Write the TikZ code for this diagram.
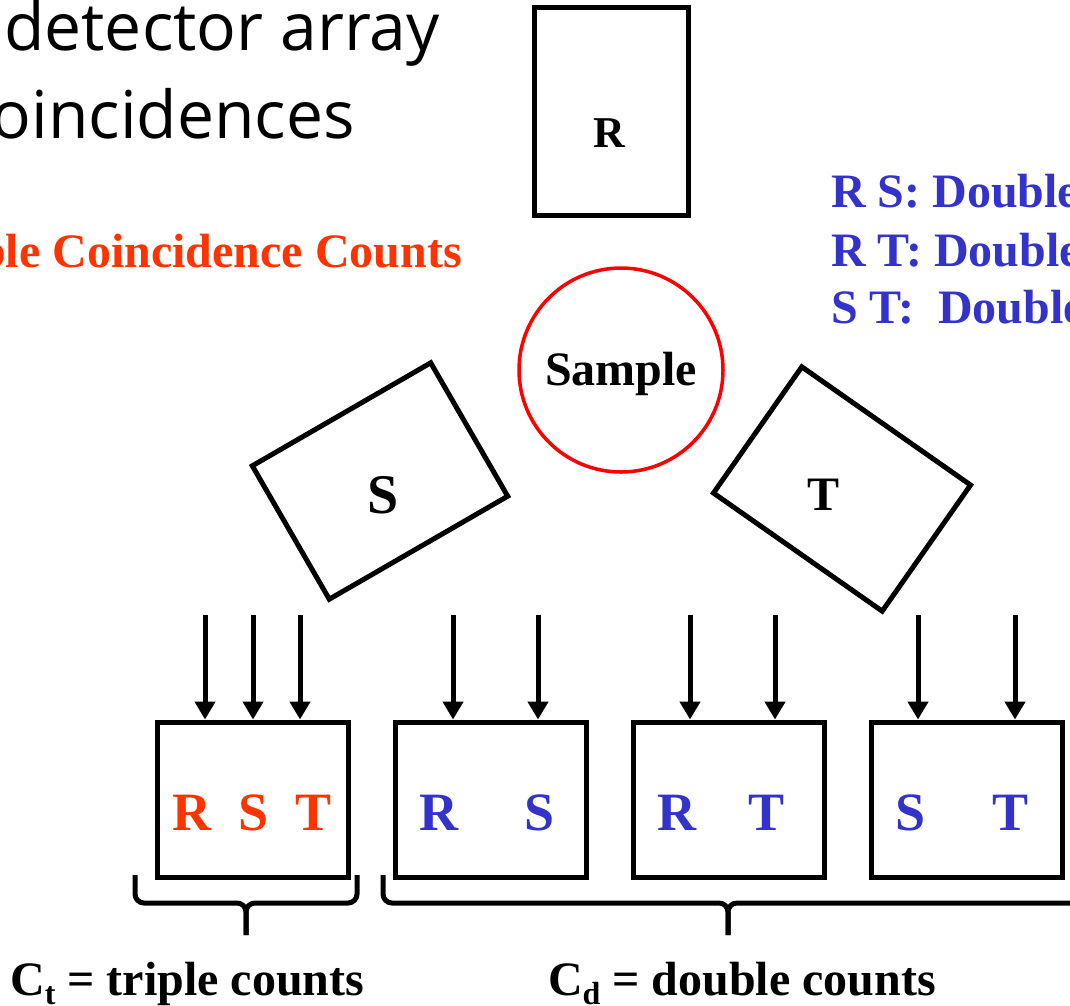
\documentclass[tikz,border=0pt]{standalone}
\usepackage{fontspec}
\setmainfont{Liberation Serif}
\newfontfamily\titlefont{Open Sans}
\usetikzlibrary{calc, positioning, arrows.meta}

\definecolor{tripred}{HTML}{FF3300}
\definecolor{dblblue}{HTML}{3333CC}

\tikzset{
  detector/.style={draw, line width=5pt, minimum width=206pt, minimum height=154pt, inner sep=0pt},
  countbox/.style={draw, line width=5pt, minimum width=191pt, minimum height=155pt, inner sep=0pt},
  bigbf/.style={font=\fontsize{48}{58}\selectfont\bfseries, inner sep=0pt},
  detlab/.style={font=\fontsize{#1}{#1}\selectfont\bfseries, inner sep=0pt},
  boxlab/.style={font=\fontsize{54}{54}\selectfont\bfseries, inner sep=0pt, anchor=base},
  feed/.style={line width=5pt, -{Triangle[width=20pt,length=18pt]}},
  brace/.style={line width=5pt, rounded corners=9pt},
}

\begin{document}
\begin{tikzpicture}[x=1pt, y=-1pt]
\useasboundingbox (0,0) rectangle (1070,1005);

% Heading, cut at the left edge
\node[anchor=base west, inner sep=0pt, font=\titlefont\fontsize{66}{66}\selectfont] (head1) at (4,50) {detector array};
\node[anchor=base east, inner sep=0pt, font=\titlefont\fontsize{66}{66}\selectfont] (head2) at (355,138) {oincidences};

% Legends
\node[bigbf, text=tripred, anchor=base east] (tripline) at (462,267) {ble Coincidence Counts};
\node[bigbf, text=dblblue, anchor=base west] (rs) at (831,207) {R S: Double};
\node[bigbf, text=dblblue, anchor=base west] (rt) at (831,266) {R T: Double};
\node[bigbf, text=dblblue, anchor=base west] (st) at (831,323) {S T:\ \ Double};

% Detectors around the sample
\node[draw, line width=5pt, minimum width=154pt, minimum height=208pt] (detR) at (611,111) {};
\node[detlab=44, anchor=base] at (609,147) {R};
\node[draw=red, line width=3.5pt, circle, minimum size=204pt, inner sep=0pt] (sample) at (621,370) {};
\node[bigbf] at ([yshift=-4pt]sample.center) {Sample};
\node[detector, rotate=30] (detS) at (380,481) {};
\node[detlab=56] at ([shift={(3,14)}]detS.center) {S};
\node[detector, rotate=-35] (detT) at (842,489) {};
\node[detlab=48] at ([shift={(-19,6)}]detT.center) {T};

% Coincidence units
\node[countbox] (b1) at (252.5,799.5) {};
\node[countbox] (b2) at (490.5,799.5) {};
\node[countbox] (b3) at (729,799.5) {};
\node[countbox] (b4) at (967,799.5) {};
\node[boxlab, text=tripred] at ([yshift=-31pt]b1.center) {R\ \ S\ \ T};
\node[boxlab, text=dblblue] at ([shift={(-3,31)}]b2.center) {R\hspace{66pt}S};
\node[boxlab, text=dblblue] at ([shift={(-8,31)}]b3.center) {R\hspace{52pt}T};
\node[boxlab, text=dblblue] at ([shift={(-5,31)}]b4.center) {S\hspace{66pt}T};

% Signal lines into the units
\foreach \x/\b in {205/b1, 253/b1, 300/b1, 453/b2, 538/b2, 690/b3, 775/b3, 918/b4, 1015/b4} {
  \coordinate (src) at (\x,615);
  \draw[feed] (src) -- (src |- \b.north);
}

% Braces
\draw[brace] (135,875) |- (246,903) -- (246,935);
\draw[brace] (357,875) |- (246,903) -- (246,935);
\draw[brace] (383,875) |- (728,903) -- (728,935);
\draw[brace] (1100,875) |- (728,903) -- (728,935);

\node[bigbf, anchor=base west] (ct) at (10,995) {C\raisebox{-9pt}{\fontsize{32}{32}\selectfont t} = triple counts};
\node[bigbf, anchor=base] (cd) at (742,995) {C\raisebox{-9pt}{\fontsize{32}{32}\selectfont d} = double counts};
\end{tikzpicture}
\end{document}
